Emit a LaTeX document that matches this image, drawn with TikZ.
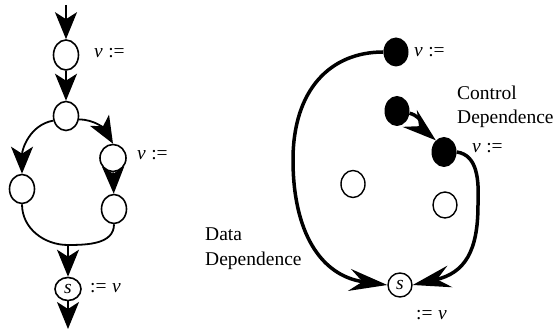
\documentclass[tikz,border=0pt]{standalone}
\usepackage{fontspec}
\setmainfont{Liberation Serif}
\usetikzlibrary{shapes.geometric,arrows.meta}
\begin{document}
\begin{tikzpicture}[x=1pt,y=1pt,
  open/.style={draw, ellipse, line width=1.6pt, minimum width=25pt, minimum height=29pt, inner sep=0pt},
  full/.style={fill, ellipse, minimum width=25pt, minimum height=29pt, inner sep=0pt},
  lbl/.style={font=\fontsize{19.5}{21}\selectfont, inner sep=0pt, anchor=west},
  flow/.style={line width=1.8pt, -{Stealth[length=27pt, width=22pt, inset=7pt]}},
  plain/.style={line width=1.8pt},
  dep/.style={line width=3.5pt, -{Stealth[length=38pt, width=22pt, inset=13pt]}},
  ctl/.style={line width=3.5pt, -{Stealth[length=34pt, width=22pt, inset=12pt]}}]
\useasboundingbox (0,0) rectangle (560,331);
% ---------- left flow graph ----------
\coordinate (top) at (66,326);
\node[open, minimum height=30pt] (A) at (66,276) {};
\node[open] (B) at (66,215) {};
\node[open] (C) at (22,142) {};
\node[open, minimum width=26pt, minimum height=27pt] (D) at (113,173) {};
\node[open] (E) at (114,122) {};
\coordinate (bot) at (68,86);
\node[open, minimum width=26pt, minimum height=23pt, font=\fontsize{19.5}{21}\selectfont] (S) at (68,42) {\textit{s}};
\coordinate (end) at (68,2);
\draw[flow] (top) -- (A.north);
\draw[flow] (A) -- (B);
\draw[flow] (B.200) to[out=190,in=90] (C.north);
\draw[flow] (B.-15) to[out=0,in=120] (D.north);
\draw[flow] (D) -- (E);
\draw[plain] (C.south) to[out=-90,in=180] (bot) to[out=0,in=-90] (E.south);
\draw[flow] (bot) -- (S.north);
\draw[flow] (S.south) -- (end);
\node[lbl] (la) at (94,278) {\textit{v}\;:=};
\node[lbl] (ld) at (137,176) {\textit{v}\;:=};
\node[lbl] (ls) at (90,43) {:=\;\textit{v}};
% ---------- right dependence graph ----------
\node[full] (F1) at (396,279) {};
\node[full, minimum height=30pt] (F2) at (397,220) {};
\node[full, minimum height=30pt] (F3) at (444,179) {};
\node[open, line width=1.4pt, minimum width=24pt, minimum height=27pt] (O1) at (353,147) {};
\node[open, line width=1.4pt, minimum width=24pt, minimum height=26pt] (O2) at (445,126) {};
\node[open, line width=1.4pt, minimum width=24pt, minimum height=24pt, font=\fontsize{19.5}{21}\selectfont] (S2) at (400,46) {\textit{s}};
\coordinate (dl) at (293,171);
\coordinate (dr) at (478,126);
\draw[dep] (F1.west) .. controls (330,279) and (293,241) .. (dl)
  .. controls (293,100) and (320,55) .. (S2.west);
\draw[dep] (F3.east) .. controls (478,176) and (479,150) .. (dr)
  .. controls (478,80) and (465,58) .. (S2.east);
\draw[ctl] (F2.-10) to[out=-15,in=140] (F3.125);
\node[lbl] (l1) at (414,279) {\textit{v}\;:=};
\node[lbl] (l3) at (472,183) {\textit{v}\;:=};
\node[lbl] (l2) at (416,16) {:=\;\textit{v}};
\node[lbl, anchor=north west, align=left, font=\fontsize{19.5}{24}\selectfont] (cd) at (457,245) {Control\\Dependence};
\node[lbl, anchor=north west, align=left, font=\fontsize{19.5}{25}\selectfont] (dd) at (205,103) {Data\\Dependence};
\end{tikzpicture}
\end{document}
